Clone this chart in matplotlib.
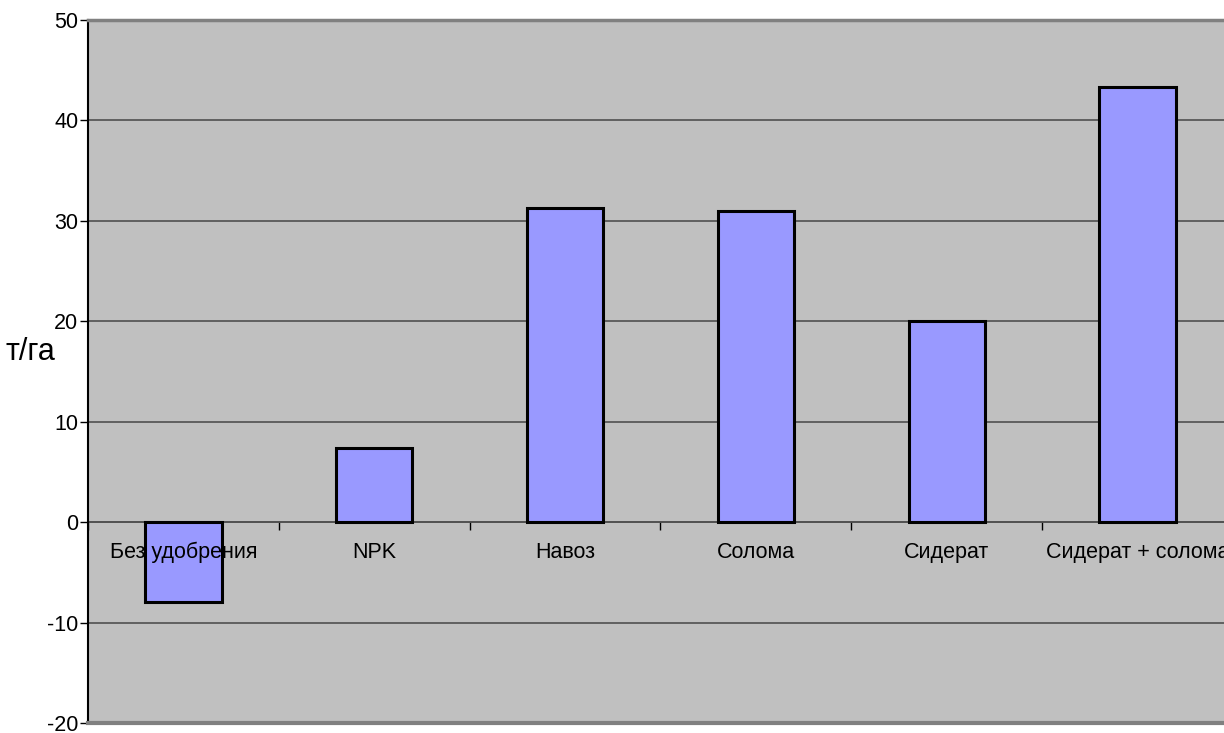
import matplotlib
matplotlib.use("Agg")
import matplotlib.pyplot as plt
import matplotlib.transforms as mtransforms
import numpy as np

categories = ["Без удобрения", "NPK", "Навоз", "Солома", "Сидерат", "Сидерат + солома"]
values = [-8.0, 7.4, 31.3, 31.0, 20.0, 43.3]
yticks = [-20, -10, 0, 10, 20, 30, 40, 50]
ylabel = "т/га"

plt.rcParams['font.family'] = ['Liberation Sans', 'DejaVu Sans']

W, H = 1224, 733
fig = plt.figure(figsize=(W / 100, H / 100), dpi=100)
left, right, top, bottom = 88, 1233, 20, 723
ax = fig.add_axes([left / W, (H - bottom) / H, (right - left) / W, (bottom - top) / H])
ax.set_facecolor('#C0C0C0')

x = np.arange(len(categories))
ax.bar(x, values, width=0.4, color='#9999FF', edgecolor='black', linewidth=2.2, zorder=3)

ax.set_xlim(-0.5, len(categories) - 0.5)
ax.set_ylim(-20, 50)
ax.set_yticks(yticks)
ax.set_yticklabels([str(v) for v in yticks], fontsize=15.5)
ax.tick_params(axis='y', direction='out', length=6, width=1, pad=1, colors='black')

for v in yticks[1:-1]:
    ax.axhline(v, color='#505050', linewidth=1.2, zorder=1)

# x axis at zero
ax.spines['bottom'].set_position(('data', 0))
ax.spines['bottom'].set_color('#505050')
ax.spines['bottom'].set_linewidth(1.2)
ax.spines['bottom'].set_zorder(2)
ax.set_xticks(np.arange(len(categories) + 1) - 0.5)
ax.set_xticklabels([])
ax.tick_params(axis='x', direction='out', length=6, width=1, color='black')

# category labels drawn over the bars
off = mtransforms.ScaledTranslation(0, -30 / 100, fig.dpi_scale_trans)
for xi, name in zip(x, categories):
    ax.text(xi, 0, name, fontsize=15.5, ha='center', va='center',
            transform=ax.transData + off, zorder=6, clip_on=False)

ax.spines['top'].set_color('#808080')
ax.spines['top'].set_linewidth(2.5)
ax.spines['right'].set_visible(False)
ax.spines['left'].set_color('black')
ax.spines['left'].set_linewidth(1.5)
ax.axhline(-20, color='#808080', linewidth=3, zorder=4, clip_on=False)

fig.text(5 / W, 1 - 352 / H, ylabel, fontsize=22, ha='left', va='center')

fig.savefig('out.png', dpi=100)
